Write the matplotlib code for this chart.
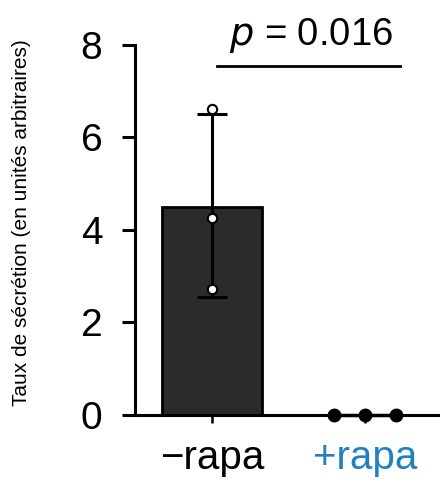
import numpy as np
import matplotlib.pyplot as plt

plt.rcParams['font.family'] = ['Liberation Sans', 'DejaVu Sans']

groups = ['\u2212rapa', '+rapa']
group_colors = ['black', '#2080c0']
means = [4.5, 0.0]
err_low = [2.55, 0.0]
err_high = [6.5, 0.0]
minus_pts = [6.62, 4.25, 2.72]
plus_pts = [0.0, 0.0, 0.0]
pval = 'p = 0.016'

fig = plt.figure(figsize=(4.4, 4.83), dpi=100)
ax = fig.add_axes([0.307, 0.141, 0.693, 0.766])

x = np.arange(len(groups))
ax.bar(x[0], means[0], width=0.65, color='#2b2b2b', edgecolor='black', linewidth=2, zorder=1)
ax.errorbar(x[0], means[0], yerr=[[means[0] - err_low[0]], [err_high[0] - means[0]]],
            fmt='none', ecolor='black', elinewidth=2.2, capsize=11, capthick=2.2, zorder=2)
ax.scatter([x[0]] * 3, minus_pts, s=45, facecolor='white', edgecolor='black', linewidth=1.5, zorder=3)
px = x[1] + np.array([-0.2, 0.0, 0.2])
ax.plot(px, plus_pts, color='black', lw=2.5, marker='o', ms=9, zorder=3, clip_on=False)

# significance bar
ax.plot([0.03, 1.23], [7.55, 7.55], color='black', lw=2, clip_on=False)
ax.text(0.645, 7.78, r'$\it{p}$' + ' = 0.016', ha='center', va='bottom', fontsize=27.5, clip_on=False)

ax.set_xlim(-0.503, 1.49)
ax.set_ylim(0, 8)
ax.set_yticks([0, 2, 4, 6, 8])
ax.set_xticks(x)
ax.set_xticklabels(groups, fontsize=29)
for lab, c in zip(ax.get_xticklabels(), group_colors):
    lab.set_color(c)
ax.tick_params(axis='x', length=6, width=1.8, pad=11)
ax.tick_params(axis='y', labelsize=28, length=9.5, width=2.2, pad=14)
ax.spines['top'].set_visible(False)
ax.spines['right'].set_visible(False)
ax.spines['left'].set_linewidth(2.2)
ax.spines['bottom'].set_linewidth(2.2)
ax.set_ylabel('Taux de sécrétion (en unités arbitraires)', fontsize=15)
ax.yaxis.set_label_coords(-0.34, 0.52)

plt.savefig('out.png', dpi=100)
